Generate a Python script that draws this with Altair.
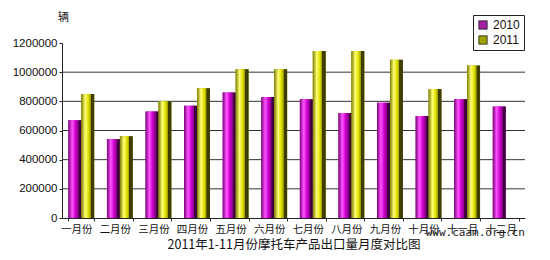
import altair as alt
import pandas as pd

months = ["一月份", "二月份", "三月份", "四月份", "五月份", "六月份",
          "七月份", "八月份", "九月份", "十月份", "十一月", "十二月"]
v2010 = [670000, 540000, 730000, 770000, 860000, 830000,
         815000, 720000, 790000, 700000, 815000, 765000]
v2011 = [850000, 560000, 800000, 890000, 1020000, 1020000,
         1145000, 1145000, 1085000, 885000, 1045000, None]
series = ["2010", "2011"]
y_ticks = [0, 200000, 400000, 600000, 800000, 1000000, 1200000]
grid_vals = [200000, 400000, 600000, 800000, 1000000]

rows = []
for m, a, b in zip(months, v2010, v2011):
    rows.append({"month": m, "series": "2010", "value": a})
    if b is not None:
        rows.append({"month": m, "series": "2011", "value": b})
df = pd.DataFrame(rows)

grad2010 = alt.LinearGradient(
    gradient="linear", x1=0, x2=1, y1=0, y2=0,
    stops=[alt.GradientStop(offset=0, color="#7a007a"),
           alt.GradientStop(offset=0.3, color="#ff55ff"),
           alt.GradientStop(offset=0.55, color="#cc00cc"),
           alt.GradientStop(offset=0.78, color="#880088"),
           alt.GradientStop(offset=0.8, color="#3d003d"),
           alt.GradientStop(offset=1, color="#3d003d")])
grad2011 = alt.LinearGradient(
    gradient="linear", x1=0, x2=1, y1=0, y2=0,
    stops=[alt.GradientStop(offset=0, color="#7a7a00"),
           alt.GradientStop(offset=0.3, color="#ffff77"),
           alt.GradientStop(offset=0.55, color="#e0e000"),
           alt.GradientStop(offset=0.72, color="#9a9a00"),
           alt.GradientStop(offset=0.74, color="#3d3d00"),
           alt.GradientStop(offset=1, color="#3d3d00")])

x_enc = alt.X("month:N", sort=months,
              scale=alt.Scale(paddingInner=0.33, paddingOuter=0.165),
              axis=alt.Axis(title="2011年1-11月份摩托车产品出口量月度对比图",
                            labelAngle=0, labelFont="Noto Sans CJK SC",
                            labelFontSize=10.5, labelColor="#111",
                            labelOffset=-5, labelPadding=3,
                            tickBand="extent", tickSize=3, tickColor="#333",
                            domainColor="#222", grid=False,
                            titleFont="Noto Sans CJK SC", titleFontSize=12.5,
                            titleFontWeight="normal", titleColor="#111",
                            titlePadding=4))
xoff = alt.XOffset("series:N", scale=alt.Scale(domain=series, paddingInner=0, paddingOuter=0))
y_scale = alt.Scale(domain=[0, 1200000], nice=False)
y_axis = alt.Axis(values=y_ticks, grid=False,
                  format="d", title="辆", titleAngle=0,
                  titleX=1, titleY=-21, titleAlign="center",
                  titleFont="Noto Sans CJK SC", titleFontSize=11,
                  titleFontWeight="normal", titleColor="#111",
                  labelFont="Liberation Sans", labelFontSize=11.5,
                  labelColor="#111", tickSize=3, tickColor="#222",
                  domainColor="#222")
y_enc = alt.Y("value:Q", scale=y_scale, axis=y_axis, title="辆")

grid = alt.Chart(pd.DataFrame({"g": grid_vals})).mark_rule(
    color="#333", strokeWidth=1
).encode(y=alt.Y("g:Q", scale=y_scale, axis=y_axis, title="辆"),
         x=alt.value(0), x2=alt.value(463))

base = alt.Chart(df).mark_bar().encode(
    x=x_enc, xOffset=xoff, y=y_enc,
    color=alt.Color("series:N",
                    scale=alt.Scale(domain=series, range=["#a020a0", "#a0a000"]),
                    legend=alt.Legend(title=None, orient="none", legendX=411, legendY=-28,
                                      strokeColor="#222", fillColor="white",
                                      padding=4, symbolType="square", symbolSize=70,
                                      symbolStrokeColor="#222", symbolStrokeWidth=0.8,
                                      labelFont="Liberation Sans", labelFontSize=12,
                                      labelColor="#111", rowPadding=3, cornerRadius=0)))

l2010 = alt.Chart(df).transform_filter(alt.datum.series == "2010").mark_bar(
    color=grad2010).encode(x=x_enc, xOffset=xoff, y=y_enc)
l2011 = alt.Chart(df).transform_filter(alt.datum.series == "2011").mark_bar(
    color=grad2011).encode(x=x_enc, xOffset=xoff, y=y_enc)

mark = alt.Chart(pd.DataFrame({"t": ["www.caam.org.cn"]})).mark_text(
    font="DejaVu Sans Mono", fontSize=11, align="right", color="#222"
).encode(text="t:N", x=alt.value(463), y=alt.value(190))

chart = alt.layer(grid, base, l2010, l2011, mark).properties(
    width=463, height=175, autosize="none",
    padding={"left": 62, "top": 43, "right": 25, "bottom": 42}
).configure_view(stroke=None)

chart.save("out.html", embed_options={"renderer": "svg", "actions": False})
